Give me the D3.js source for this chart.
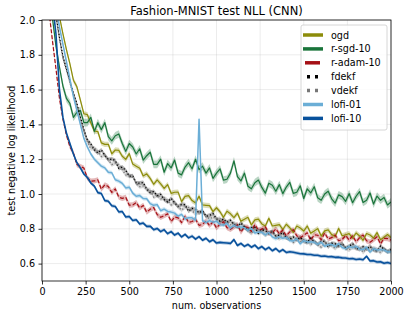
<!DOCTYPE html>
<html>
<head>
<meta charset="utf-8">
<script src="https://cdn.jsdelivr.net/npm/d3@7"></script>
<style>
  body { margin: 0; background: #fff; }
  text { font-family: "DejaVu Sans", sans-serif; }
</style>
</head>
<body>
<svg id="chart" width="411" height="318"></svg>
<script>
// observations sampled every 20 steps, 0..2000
const obs = d3.range(0, 2001, 20);

const ogd = [
  2.80, 2.62, 2.41, 2.24, 2.11, 2.02, 1.92, 1.83, 1.748, 1.654,
  1.616, 1.54, 1.461, 1.456, 1.408, 1.362, 1.359, 1.294, 1.285, 1.286,
  1.231, 1.253, 1.251, 1.217, 1.199, 1.232, 1.172, 1.16, 1.148, 1.104,
  1.116, 1.09, 1.056, 1.081, 1.058, 1.032, 1.054, 1.004, 1.01, 1.011,
  0.956, 0.986, 0.991, 0.962, 0.949, 0.987, 0.937, 0.935, 0.933, 0.899,
  0.921, 0.898, 0.866, 0.901, 0.886, 0.864, 0.89, 0.844, 0.855, 0.866,
  0.822, 0.851, 0.856, 0.828, 0.816, 0.86, 0.816, 0.82, 0.824, 0.796,
  0.826, 0.806, 0.779, 0.816, 0.805, 0.787, 0.816, 0.774, 0.787, 0.801,
  0.758, 0.788, 0.794, 0.767, 0.756, 0.802, 0.76, 0.766, 0.772, 0.746,
  0.776, 0.759, 0.734, 0.773, 0.764, 0.747, 0.778, 0.737, 0.752, 0.767,
  0.75
];
const rSgd10 = [
  2.70, 2.45, 2.20, 2.01, 1.85, 1.73, 1.62, 1.55, 1.52, 1.44,
  1.47, 1.48, 1.41, 1.41, 1.44, 1.36, 1.41, 1.37, 1.41, 1.33,
  1.305, 1.335, 1.345, 1.29, 1.245, 1.29, 1.27, 1.23, 1.26, 1.195,
  1.22, 1.24, 1.17, 1.17, 1.20, 1.125, 1.175, 1.15, 1.195, 1.12,
  1.11, 1.155, 1.18, 1.145, 1.20, 1.14, 1.16, 1.12, 1.15, 1.09,
  1.12, 1.145, 1.08, 1.085, 1.12, 1.19, 1.10, 1.075, 1.12, 1.045,
  1.03, 1.065, 1.08, 1.038, 1.005, 1.062, 1.05, 1.016, 1.054, 1.002,
  1.04, 1.067, 1.004, 1.01, 1.047, 0.974, 1.03, 1.006, 1.042, 0.978,
  0.964, 1.00, 1.016, 0.972, 0.948, 0.995, 0.985, 0.958, 1.002, 0.95,
  0.987, 1.014, 0.951, 0.964, 1.006, 0.942, 0.988, 0.964, 0.98, 0.937,
  0.955
];
const rAdam10 = [
  2.60, 2.30, 2.05, 1.88, 1.72, 1.55, 1.43, 1.34, 1.272, 1.236,
  1.169, 1.158, 1.149, 1.092, 1.074, 1.075, 1.081, 1.028, 1.053, 1.043,
  1.009, 1.029, 0.982, 0.975, 0.981, 0.936, 0.937, 0.951, 0.92, 0.934,
  0.896, 0.912, 0.922, 0.882, 0.866, 0.875, 0.886, 0.841, 0.868, 0.863,
  0.836, 0.872, 0.837, 0.842, 0.855, 0.82, 0.825, 0.846, 0.819, 0.84,
  0.805, 0.827, 0.841, 0.807, 0.797, 0.811, 0.824, 0.781, 0.811, 0.808,
  0.784, 0.824, 0.792, 0.798, 0.811, 0.774, 0.778, 0.799, 0.772, 0.793,
  0.76, 0.782, 0.795, 0.76, 0.749, 0.763, 0.777, 0.735, 0.765, 0.763,
  0.737, 0.776, 0.742, 0.749, 0.764, 0.731, 0.738, 0.761, 0.736, 0.759,
  0.726, 0.749, 0.764, 0.731, 0.723, 0.738, 0.754, 0.713, 0.745, 0.744,
  0.735
];
const fdekf = [
  2.75, 2.55, 2.35, 2.18, 2.03, 1.90, 1.79, 1.72, 1.65, 1.58,
  1.52, 1.44, 1.37, 1.31, 1.287, 1.254, 1.236, 1.253, 1.222, 1.198,
  1.201, 1.192, 1.147, 1.154, 1.136, 1.102, 1.104, 1.063, 1.062, 1.066,
  1.028, 1.008, 1.014, 0.99, 0.998, 0.968, 0.954, 0.975, 0.949, 0.928,
  0.94, 0.938, 0.901, 0.918, 0.911, 0.892, 0.903, 0.872, 0.877, 0.888,
  0.857, 0.844, 0.856, 0.837, 0.849, 0.824, 0.811, 0.834, 0.81, 0.792,
  0.806, 0.808, 0.774, 0.794, 0.79, 0.773, 0.786, 0.757, 0.764, 0.778,
  0.749, 0.739, 0.753, 0.737, 0.751, 0.729, 0.72, 0.747, 0.726, 0.711,
  0.726, 0.729, 0.696, 0.717, 0.714, 0.70, 0.715, 0.689, 0.699, 0.715,
  0.689, 0.681, 0.697, 0.683, 0.699, 0.679, 0.672, 0.701, 0.682, 0.669,
  0.68
];
const vdekf = [
  2.74, 2.54, 2.34, 2.17, 2.02, 1.89, 1.78, 1.71, 1.64, 1.57,
  1.51, 1.43, 1.36, 1.30, 1.261, 1.264, 1.246, 1.215, 1.226, 1.196,
  1.169, 1.178, 1.169, 1.14, 1.11, 1.106, 1.102, 1.061, 1.042, 1.046,
  1.026, 1.024, 0.982, 0.994, 0.972, 0.978, 0.964, 0.937, 0.953, 0.926,
  0.908, 0.924, 0.923, 0.904, 0.885, 0.896, 0.901, 0.87, 0.857, 0.868,
  0.855, 0.86, 0.824, 0.841, 0.823, 0.834, 0.821, 0.796, 0.814, 0.79,
  0.774, 0.794, 0.796, 0.78, 0.764, 0.777, 0.784, 0.755, 0.744, 0.758,
  0.747, 0.755, 0.721, 0.741, 0.725, 0.739, 0.73, 0.709, 0.73, 0.709,
  0.694, 0.715, 0.718, 0.703, 0.688, 0.704, 0.713, 0.687, 0.679, 0.695,
  0.687, 0.697, 0.665, 0.687, 0.673, 0.689, 0.682, 0.663, 0.686, 0.667,
  0.672
];
const lofi01 = [
  2.70, 2.52, 2.36, 2.21, 2.08, 1.96, 1.86, 1.76, 1.66, 1.56,
  1.48, 1.40, 1.32, 1.27, 1.23, 1.20, 1.18, 1.16, 1.15, 1.125,
  1.122, 1.082, 1.074, 1.061, 1.035, 1.039, 1.005, 0.987, 0.991, 0.974,
  0.973, 0.945, 0.935, 0.939, 0.904, 0.913, 0.90, 0.896, 0.89, 0.873,
  0.883, 0.857, 0.863, 0.863, 0.85, 1.43, 0.846, 0.836, 0.847, 0.838,
  0.843, 0.824, 0.821, 0.832, 0.804, 0.82, 0.811, 0.811, 0.806, 0.791,
  0.802, 0.776, 0.781, 0.78, 0.765, 0.779, 0.754, 0.744, 0.755, 0.745,
  0.752, 0.733, 0.73, 0.742, 0.714, 0.732, 0.724, 0.726, 0.723, 0.71,
  0.723, 0.70, 0.708, 0.71, 0.698, 0.715, 0.693, 0.686, 0.699, 0.692,
  0.70, 0.683, 0.681, 0.694, 0.667, 0.685, 0.678, 0.681, 0.679, 0.667,
  0.67
];
const lofi10 = [
  2.70, 2.50, 2.30, 2.10, 1.92, 1.60, 1.44, 1.35, 1.29, 1.23,
  1.18, 1.15, 1.115, 1.095, 1.063, 1.045, 1.008, 1.003, 0.962, 0.958,
  0.932, 0.928, 0.897, 0.899, 0.868, 0.871, 0.848, 0.852, 0.827, 0.833,
  0.814, 0.815, 0.795, 0.802, 0.784, 0.795, 0.772, 0.784, 0.764, 0.775,
  0.753, 0.768, 0.748, 0.758, 0.741, 0.755, 0.734, 0.746, 0.726, 0.737,
  0.718, 0.722, 0.72, 0.718, 0.716, 0.738, 0.704, 0.716, 0.699, 0.71,
  0.694, 0.706, 0.686, 0.698, 0.68, 0.693, 0.674, 0.687, 0.668, 0.68,
  0.664, 0.668, 0.665, 0.661, 0.657, 0.656, 0.652, 0.652, 0.648, 0.648,
  0.642, 0.644, 0.639, 0.64, 0.636, 0.637, 0.633, 0.632, 0.628, 0.629,
  0.624, 0.626, 0.622, 0.642, 0.615, 0.617, 0.609, 0.611, 0.602, 0.606,
  0.60
];

const seriesNames = ["ogd", "r-sgd-10", "r-adam-10", "fdekf", "vdekf", "lofi-01", "lofi-10"];
const seriesValues = [ogd, rSgd10, rAdam10, fdekf, vdekf, lofi01, lofi10];
const bandHalfWidth = [0.015, 0.022, 0.015, 0.012, 0.012, 0.012, 0.01];

const xTicks = [0, 250, 500, 750, 1000, 1250, 1500, 1750, 2000];
const yTicks = [0.6, 0.8, 1.0, 1.2, 1.4, 1.6, 1.8, 2.0];

// styles
const colors = ["#8c8c0a", "#19743a", "#a50f15", "#000000", "#777777", "#6baed6", "#08519c"];
const dashes = [null, null, "4,2", "1.3,2", "1.3,2", null, null];
const legendDashes = [null, null, "15,6", "3,5", "3,5", null, null];
const legendDashOffsets = [0, 0, -2, -4, -4, 0, 0];
const widths = [1.2, 1.2, 1.2, 1.3, 1.3, 1.5, 1.6];

const svg = d3.select("#chart");
const plotLeft = 42, plotRight = 391, plotTop = 20, plotBottom = 281;

const x = d3.scaleLinear().domain([0, 2000]).range([plotLeft, plotRight]);
const y = d3.scaleLinear().domain([0.5, 2.0]).range([plotBottom, plotTop]);

svg.append("defs").append("clipPath").attr("id", "plot-clip")
  .append("rect")
    .attr("x", plotLeft).attr("y", plotTop)
    .attr("width", plotRight - plotLeft).attr("height", plotBottom - plotTop);

// grid
const grid = svg.append("g").attr("class", "grid")
  .attr("stroke", "#b0b0b0").attr("stroke-opacity", 0.3).attr("stroke-width", 0.8);
grid.selectAll(".gx").data(xTicks).enter().append("line")
  .attr("x1", d => x(d)).attr("x2", d => x(d))
  .attr("y1", plotTop).attr("y2", plotBottom);
grid.selectAll(".gy").data(yTicks).enter().append("line")
  .attr("x1", plotLeft).attr("x2", plotRight)
  .attr("y1", d => y(d)).attr("y2", d => y(d));

const plot = svg.append("g").attr("clip-path", "url(#plot-clip)");

const line = d3.line().x((d, i) => x(obs[i])).y(d => y(d));
const band = (hw) => d3.area()
  .x((d, i) => x(obs[i]))
  .y0(d => y(d - hw))
  .y1(d => y(d + hw));

seriesValues.forEach((vals, k) => {
  plot.append("path")
    .attr("d", band(bandHalfWidth[k])(vals))
    .attr("fill", colors[k])
    .attr("fill-opacity", 0.3)
    .attr("stroke", "none");
});
seriesValues.forEach((vals, k) => {
  plot.append("path")
    .attr("d", line(vals))
    .attr("fill", "none")
    .attr("stroke", colors[k])
    .attr("stroke-width", widths[k])
    .attr("stroke-dasharray", dashes[k])
    .attr("stroke-linejoin", "round");
});

// axes
const xAxis = svg.append("g")
  .attr("transform", `translate(0,${plotBottom})`)
  .call(d3.axisBottom(x).tickValues(xTicks).tickSize(3.5).tickPadding(3.5).tickFormat(d3.format("d")));
const yAxis = svg.append("g")
  .attr("transform", `translate(${plotLeft},0)`)
  .call(d3.axisLeft(y).tickValues(yTicks).tickSize(3.5).tickPadding(3.5).tickFormat(d3.format(".1f")));
[xAxis, yAxis].forEach(a => {
  a.select(".domain").remove();
  a.selectAll("text").attr("font-size", 9.6).attr("font-family", "DejaVu Sans").attr("fill", "#000");
  a.selectAll("line").attr("stroke", "#000").attr("stroke-width", 0.8);
});

svg.append("rect")
  .attr("x", plotLeft).attr("y", plotTop)
  .attr("width", plotRight - plotLeft).attr("height", plotBottom - plotTop)
  .attr("fill", "none").attr("stroke", "#000").attr("stroke-width", 0.8);

// labels
svg.append("text")
  .attr("x", (plotLeft + plotRight) / 2).attr("y", 15)
  .attr("text-anchor", "middle").attr("font-size", 11.5)
  .text("Fashion-MNIST test NLL (CNN)");
svg.append("text")
  .attr("x", (plotLeft + plotRight) / 2).attr("y", 309)
  .attr("text-anchor", "middle").attr("font-size", 9.6)
  .text("num. observations");
svg.append("text")
  .attr("transform", `translate(15,${(plotTop + plotBottom) / 2}) rotate(-90)`)
  .attr("text-anchor", "middle").attr("font-size", 9.6)
  .text("test negative log likelihood");

// legend
const legend = svg.append("g").attr("class", "legend");
legend.append("rect")
  .attr("x", 301).attr("y", 25).attr("width", 86).attr("height", 105)
  .attr("rx", 2).attr("fill", "#fff").attr("fill-opacity", 0.8)
  .attr("stroke", "#cccccc").attr("stroke-width", 0.8);
const entries = legend.selectAll(".legend-entry")
  .data(seriesNames).enter().append("g")
  .attr("class", "legend-entry")
  .attr("transform", (d, i) => `translate(0,${35 + i * 13.9})`);
entries.append("line")
  .attr("x1", 303).attr("x2", 323).attr("y1", 0).attr("y2", 0)
  .attr("stroke", (d, i) => colors[i])
  .attr("stroke-width", 3.5)
  .attr("stroke-dasharray", (d, i) => legendDashes[i])
  .attr("stroke-dashoffset", (d, i) => legendDashOffsets[i]);
entries.append("text")
  .attr("x", 331).attr("y", 3.5)
  .attr("font-size", 9.6)
  .text(d => d);
</script>
</body>
</html>
